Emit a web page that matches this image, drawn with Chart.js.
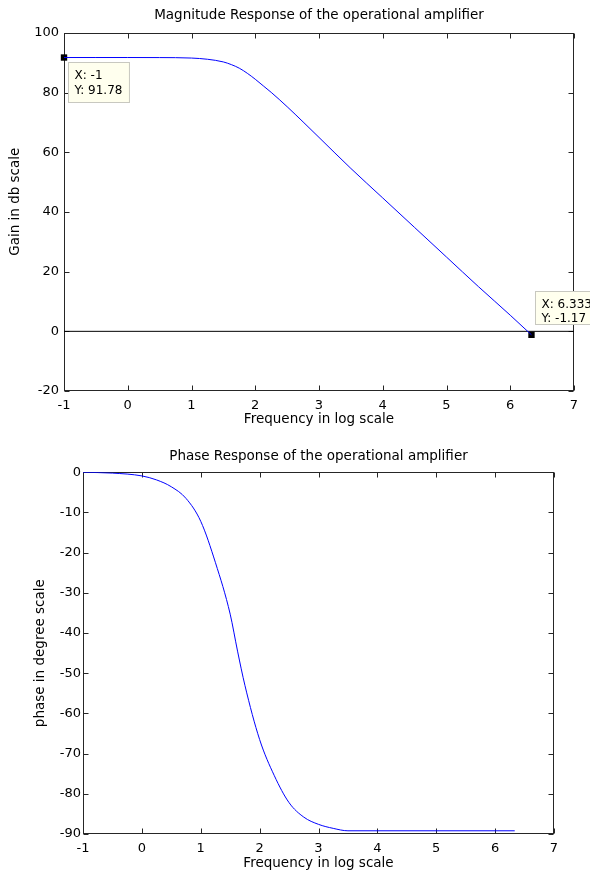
<!DOCTYPE html>
<html>
<head>
<meta charset="utf-8">
<script src="https://cdn.jsdelivr.net/npm/chart.js@4.4.1/dist/chart.umd.min.js"></script>
<style>
  body { margin: 0; background: #fff; }
  canvas { display: block; }
</style>
</head>
<body>
<canvas id="magChart" width="590" height="436"></canvas>
<canvas id="phaseChart" width="590" height="437"></canvas>
<script>
// magnitude response
const magFreqLog = [-1, -0.5, 0, 0.5, 1, 1.25, 1.5, 1.625, 1.75, 1.875, 2, 2.125, 2.25, 2.5, 2.75, 3, 3.5, 4, 4.5, 5, 5.5, 6, 6.2, 6.333];
const magGainDb = [91.78, 91.78, 91.78, 91.76, 91.6, 91.2, 90.3, 89.4, 88.2, 86.5, 84.5, 82.3, 80.1, 75.3, 70.2, 65.0, 54.6, 44.7, 34.8, 24.9, 15.0, 5.4, 1.44, -1.17];

// horizontal reference line at 0 dB
const zeroLineX = [-1, 7];
const zeroLineY = [0, 0];

// data tips on the magnitude plot
const tipX = [-1, 6.333];
const tipY = [91.78, -1.17];

// phase response
const phaseFreqLog = [-1, -0.5, 0, 0.25, 0.5, 0.75, 1, 1.25, 1.5, 1.625, 1.75, 2, 2.25, 2.5, 2.75, 3, 3.25, 3.5, 4, 5, 6, 6.333];
const phaseDeg = [0, -0.2, -0.9, -1.9, -3.6, -6.5, -12.2, -22.5, -35.3, -44.5, -53, -66.5, -75.5, -82.2, -85.8, -87.6, -88.6, -89.2, -89.2, -89.2, -89.2, -89.2];

// axis ranges
const xRange = [-1, 7];
const magRange = [-20, 100];
const phaseRange = [-90, 0];

const FONT = 'DejaVu Sans';
const tickFont = { family: FONT, size: 13, weight: 'normal' };
const labelFont = { family: FONT, size: 13.5, weight: 'normal' };

const toPoints = (xs, ys) => xs.map((x, i) => ({ x, y: ys[i] }));

// MATLAB-like box with inward ticks on all four sides
const matlabBox = {
    id: 'matlabBox',
    beforeDatasetsDraw(chart) {
        const { ctx, chartArea: a, scales: { x, y } } = chart;
        const L = Math.round(a.left) + 0.5, R = Math.round(a.right) - 0.5;
        const T = Math.round(a.top) + 0.5, B = Math.round(a.bottom) - 0.5;
        const len = 5;
        ctx.save();
        ctx.strokeStyle = '#262626';
        ctx.lineWidth = 1;
        ctx.strokeRect(L, T, R - L, B - T);
        ctx.beginPath();
        x.ticks.forEach(t => {
            const px = Math.round(x.getPixelForValue(t.value)) + 0.5;
            ctx.moveTo(px, B); ctx.lineTo(px, B - len);
            ctx.moveTo(px, T); ctx.lineTo(px, T + len);
        });
        y.ticks.forEach(t => {
            const py = Math.round(y.getPixelForValue(t.value)) + 0.5;
            ctx.moveTo(L, py); ctx.lineTo(L + len, py);
            ctx.moveTo(R, py); ctx.lineTo(R - len, py);
        });
        ctx.stroke();
        ctx.restore();
    }
};

// rotated y label placed relative to the plot area
const yLabel = {
    id: 'yLabel',
    afterDraw(chart, args, opts) {
        if (!opts.text) return;
        const { ctx, chartArea: a } = chart;
        ctx.save();
        ctx.translate(a.left + opts.dx, (a.top + a.bottom) / 2 + opts.dy);
        ctx.rotate(-Math.PI / 2);
        ctx.font = `13.5px "${FONT}"`;
        ctx.fillStyle = '#000';
        ctx.textAlign = 'center';
        ctx.textBaseline = 'middle';
        ctx.fillText(opts.text, 0, 0);
        ctx.restore();
    }
};

// data tip boxes
const dataTips = {
    id: 'dataTips',
    afterDraw(chart, args, opts) {
        if (!opts.tips) return;
        const { ctx, scales: { x, y } } = chart;
        ctx.save();
        ctx.font = `12px "${FONT}"`;
        opts.tips.forEach(tip => {
            const px = x.getPixelForValue(tip.x);
            const py = y.getPixelForValue(tip.y);
            const lines = ['X: ' + tip.x, 'Y: ' + tip.y];
            const w = Math.max(...lines.map(s => ctx.measureText(s).width)) + 13;
            const h = tip.above ? 33 : 40;
            const bx = Math.round(px + 4) + 0.5;
            const by = tip.above ? Math.round(py - 11 - h) + 0.5 : Math.round(py + 4) + 0.5;
            const gap = tip.above ? 14 : 15;
            ctx.fillStyle = '#ffffee';
            ctx.strokeStyle = '#c8c8c0';
            ctx.lineWidth = 1;
            ctx.fillRect(bx, by, w, h);
            ctx.strokeRect(bx, by, w, h);
            ctx.fillStyle = '#000';
            ctx.textBaseline = 'alphabetic';
            ctx.textAlign = 'left';
            ctx.fillText(lines[0], bx + 6, by + 16.5);
            ctx.fillText(lines[1], bx + 6, by + 16.5 + gap);
        });
        ctx.restore();
    }
};

function axisOptions(range, step, pad, extra) {
    return Object.assign({
        type: 'linear',
        min: range[0],
        max: range[1],
        grid: { display: false, drawTicks: false },
        border: { display: false },
        ticks: { stepSize: step, color: '#000', font: tickFont, padding: pad, autoSkip: false, maxRotation: 0 }
    }, extra);
}

function baseOptions(cfg) {
    return {
        responsive: false,
        animation: false,
        events: [],
        layout: { padding: { left: 0, right: cfg.padRight, top: 0, bottom: 0 } },
        plugins: {
            legend: { display: false },
            tooltip: { enabled: false },
            title: {
                display: true,
                text: cfg.title,
                fullSize: false,
                color: '#000',
                font: labelFont,
                padding: cfg.titlePad
            },
            yLabel: cfg.yLabel,
            dataTips: { tips: cfg.tips }
        },
        scales: {
            x: axisOptions(xRange, 1, 7, {
                title: { display: true, text: 'Frequency in log scale', color: '#000', font: labelFont, padding: { top: 0, bottom: cfg.xTitlePad } },
                afterFit: s => { s.height = cfg.xHeight; }
            }),
            y: axisOptions(cfg.yRange, cfg.yStep, cfg.yPad, {
                afterFit: s => { s.width = cfg.yWidth; }
            })
        }
    };
}

const lineStyle = { borderColor: '#0000ff', borderWidth: 1, pointRadius: 0, cubicInterpolationMode: 'monotone', fill: false };

new Chart(document.getElementById('magChart'), {
    type: 'line',
    data: {
        datasets: [
            Object.assign({ label: 'Gain', data: toPoints(magFreqLog, magGainDb) }, lineStyle),
            { label: 'zero', data: toPoints(zeroLineX, zeroLineY), borderColor: '#000', borderWidth: 1, pointRadius: 0 },
            {
                type: 'scatter', label: 'tips', data: toPoints(tipX, tipY),
                pointStyle: 'rect', pointRadius: 4.5, backgroundColor: '#000', borderColor: '#000', borderWidth: 0, clip: false
            }
        ]
    },
    options: baseOptions({
        title: 'Magnitude Response of the operational amplifier',
        titlePad: { top: 7.7, bottom: 9.1 },
        padRight: 16,
        xHeight: 45,
        xTitlePad: 8.2,
        yWidth: 64,
        yPad: 5,
        yRange: magRange,
        yStep: 20,
        yLabel: { text: 'Gain in db scale', dx: -49, dy: -10.3 },
        tips: [
            { x: tipX[0], y: tipY[0], above: false },
            { x: tipX[1], y: tipY[1], above: true }
        ]
    }),
    plugins: [matlabBox, yLabel, dataTips]
});

new Chart(document.getElementById('phaseChart'), {
    type: 'line',
    data: {
        datasets: [
            Object.assign({ label: 'Phase', data: toPoints(phaseFreqLog, phaseDeg) }, lineStyle)
        ]
    },
    options: baseOptions({
        title: 'Phase Response of the operational amplifier',
        titlePad: { top: 12.1, bottom: 8 },
        padRight: 36,
        xHeight: 39,
        xTitlePad: 1.9,
        yWidth: 83,
        yPad: 2,
        yRange: phaseRange,
        yStep: 10,
        yLabel: { text: 'phase in degree scale', dx: -43, dy: 0 },
        tips: null
    }),
    plugins: [matlabBox, yLabel, dataTips]
});
</script>
</body>
</html>
